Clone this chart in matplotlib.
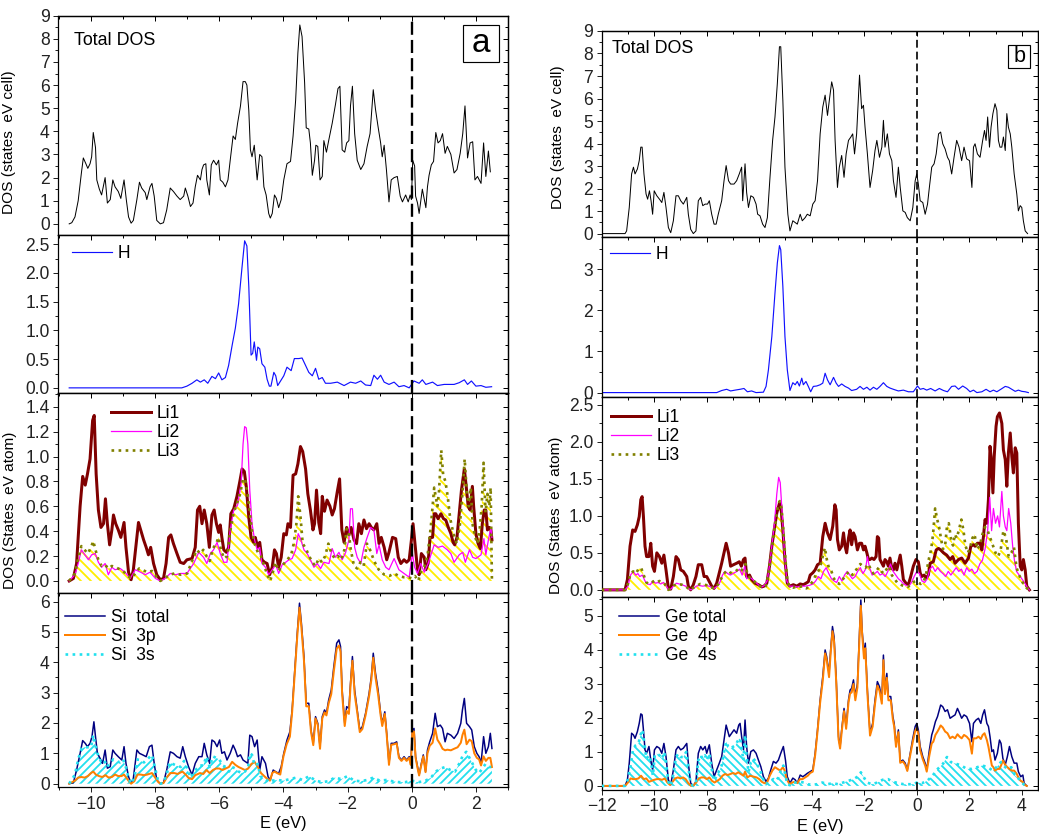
import matplotlib
matplotlib.use('Agg')
import matplotlib.pyplot as plt
from matplotlib.ticker import MultipleLocator, FormatStrFormatter
from matplotlib.patches import Rectangle

plt.rcParams['font.family'] = ['Liberation Sans', 'DejaVu Sans']
plt.rcParams['hatch.linewidth'] = 1.1
plt.rcParams['axes.linewidth'] = 0.75

# ---------------- data, panel a (Li-Si-H) ----------------
tot_a = [(-10.68, 0), (-10.6, 0.05), (-10.5, 0.3), (-10.4, 1.0), (-10.3, 2.2), (-10.24, 2.85), (-10.16, 2.6),
         (-10.1, 2.4), (-10.03, 2.6), (-9.98, 2.9), (-9.93, 3.95), (-9.86, 3.3), (-9.82, 1.9), (-9.74, 1.5),
         (-9.67, 1.25), (-9.56, 2.0), (-9.49, 0.9), (-9.4, 1.05), (-9.32, 1.9), (-9.25, 1.6), (-9.15, 1.4),
         (-9.07, 1.1), (-8.97, 1.9), (-8.9, 1.05), (-8.83, 0.3), (-8.75, 0.03), (-8.68, 0.15), (-8.57, 1.05),
         (-8.49, 1.8), (-8.42, 1.55), (-8.31, 1.35), (-8.26, 1.05), (-8.16, 1.6), (-8.1, 1.75), (-8.03, 1.2),
         (-7.95, 0.15), (-7.84, 0), (-7.74, 0.05), (-7.64, 0.6), (-7.53, 1.55), (-7.43, 1.4), (-7.32, 1.2),
         (-7.22, 1.05), (-7.11, 1.2), (-7.06, 1.55), (-6.98, 1.2), (-6.9, 0.75), (-6.82, 0.9), (-6.75, 1.6),
         (-6.68, 2.1), (-6.59, 1.9), (-6.54, 2.35), (-6.49, 2.55), (-6.42, 2.6), (-6.39, 1.9), (-6.31, 1.25),
         (-6.25, 2.55), (-6.18, 2.75), (-6.09, 2.55), (-6.02, 2.75), (-5.97, 1.9), (-5.89, 1.8), (-5.81, 1.6),
         (-5.73, 1.9), (-5.66, 2.75), (-5.57, 3.8), (-5.5, 3.65), (-5.43, 4.35), (-5.34, 5.1), (-5.26, 6.15),
         (-5.19, 6.15), (-5.14, 6.0), (-5.08, 4.9), (-5.03, 3.2), (-4.98, 2.9), (-4.91, 3.4), (-4.82, 1.9),
         (-4.74, 3.0), (-4.67, 2.9), (-4.61, 1.6), (-4.54, 1.25), (-4.46, 0.45), (-4.41, 0.25), (-4.35, 0.45),
         (-4.28, 1.25), (-4.22, 1.1), (-4.15, 0.7), (-4.07, 1.05), (-3.99, 1.9), (-3.89, 2.6), (-3.78, 2.7),
         (-3.7, 3.8), (-3.62, 5.35), (-3.55, 7.4), (-3.49, 8.6), (-3.42, 8.1), (-3.34, 6.1), (-3.29, 4.15),
         (-3.21, 4.1), (-3.16, 3.5), (-3.1, 2.1), (-3.03, 2.75), (-2.99, 3.4), (-2.93, 3.35), (-2.86, 1.9),
         (-2.79, 2.05), (-2.74, 3.6), (-2.66, 3.1), (-2.59, 3.6), (-2.48, 4.35), (-2.38, 5.15), (-2.3, 5.85),
         (-2.24, 5.95), (-2.17, 3.2), (-2.09, 3.1), (-2.03, 3.5), (-1.96, 3.6), (-1.91, 5.1), (-1.85, 5.95),
         (-1.78, 3.9), (-1.7, 2.75), (-1.59, 2.35), (-1.49, 2.6), (-1.39, 3.35), (-1.3, 3.9), (-1.2, 5.8),
         (-1.13, 4.95), (-1.05, 4.2), (-0.97, 3.5), (-0.92, 2.9), (-0.86, 3.4), (-0.79, 2.35), (-0.71, 0.95),
         (-0.64, 1.9), (-0.55, 2.0), (-0.45, 2.05), (-0.36, 1.2), (-0.29, 0.95), (-0.19, 1.25), (-0.11, 0.95),
         (-0.05, 1.25), (-0.01, 1.05), (0.03, 2.75), (0.09, 2.5), (0.12, 1.2), (0.18, 0.9), (0.23, 0.45),
         (0.33, 1.5), (0.39, 1.05), (0.44, 0.7), (0.49, 1.6), (0.54, 2.1), (0.61, 2.55), (0.68, 2.7),
         (0.75, 3.95), (0.82, 3.5), (0.89, 3.6), (0.96, 3.9), (1.04, 3.05), (1.11, 3.35), (1.22, 3.0),
         (1.32, 2.2), (1.41, 2.35), (1.51, 3.05), (1.59, 3.9), (1.66, 5.1), (1.74, 2.85), (1.82, 3.5),
         (1.9, 3.55), (1.97, 1.9), (2.05, 2.05), (2.16, 1.75), (2.24, 3.5), (2.31, 2.05), (2.39, 3.15),
         (2.45, 2.25)]

h_a = [(-10.68, 0), (-7.17, 0), (-7.01, 0.03), (-6.85, 0.08), (-6.7, 0.14), (-6.59, 0.1), (-6.47, 0.14),
       (-6.36, 0.08), (-6.23, 0.2), (-6.12, 0.16), (-6.02, 0.26), (-5.92, 0.14), (-5.81, 0.18), (-5.71, 0.39),
       (-5.6, 0.74), (-5.5, 1.04), (-5.4, 1.46), (-5.29, 2.11), (-5.21, 2.56), (-5.14, 2.47), (-5.08, 1.76),
       (-5.01, 0.57), (-4.96, 0.6), (-4.91, 0.8), (-4.84, 0.48), (-4.8, 0.71), (-4.74, 0.68), (-4.67, 0.42),
       (-4.58, 0.36), (-4.51, 0.15), (-4.44, 0.03), (-4.39, 0.03), (-4.3, 0.27), (-4.24, 0.21), (-4.18, 0.04),
       (-4.09, 0.12), (-3.99, 0.21), (-3.89, 0.36), (-3.76, 0.3), (-3.66, 0.51), (-3.52, 0.51), (-3.42, 0.52),
       (-3.31, 0.39), (-3.21, 0.27), (-3.1, 0.21), (-3.0, 0.34), (-2.9, 0.15), (-2.79, 0.18), (-2.69, 0.08),
       (-2.53, 0.08), (-2.32, 0.1), (-2.11, 0.04), (-1.91, 0.1), (-1.75, 0.08), (-1.59, 0.12), (-1.44, 0.05),
       (-1.28, 0.04), (-1.18, 0.22), (-1.07, 0.15), (-0.97, 0.22), (-0.86, 0.1), (-0.71, 0.06), (-0.55, 0.1),
       (-0.4, 0.02), (-0.24, 0.04), (-0.08, 0.0), (0.07, 0.12), (0.23, 0.08), (0.33, 0.14), (0.44, 0.06),
       (0.65, 0.1), (0.8, 0.04), (1.01, 0.06), (1.32, 0.06), (1.48, 0.09), (1.64, 0.14), (1.74, 0.06),
       (1.86, 0.12), (2.0, 0.03), (2.16, 0.04), (2.31, 0.01), (2.49, 0.02)]

li1_a = [(-10.68, 0), (-10.55, 0.02), (-10.45, 0.14), (-10.34, 0.6), (-10.26, 0.84), (-10.18, 0.77),
         (-10.11, 0.86), (-10.03, 0.98), (-9.95, 1.29), (-9.9, 1.33), (-9.84, 0.86), (-9.77, 0.57), (-9.69, 0.43),
         (-9.61, 0.46), (-9.55, 0.66), (-9.49, 0.46), (-9.42, 0.29), (-9.35, 0.41), (-9.3, 0.53), (-9.23, 0.46),
         (-9.15, 0.41), (-9.07, 0.35), (-8.97, 0.47), (-8.91, 0.27), (-8.83, 0.07), (-8.75, 0.01), (-8.68, 0.09),
         (-8.59, 0.3), (-8.52, 0.47), (-8.45, 0.41), (-8.36, 0.33), (-8.28, 0.27), (-8.21, 0.21), (-8.14, 0.27),
         (-8.05, 0.14), (-7.95, 0.05), (-7.84, 0.01), (-7.74, 0.02), (-7.66, 0.14), (-7.58, 0.35), (-7.51, 0.37),
         (-7.43, 0.3), (-7.32, 0.22), (-7.22, 0.15), (-7.11, 0.14), (-7.01, 0.17), (-6.85, 0.18), (-6.75, 0.27),
         (-6.68, 0.57), (-6.61, 0.6), (-6.54, 0.46), (-6.47, 0.57), (-6.39, 0.46), (-6.31, 0.27), (-6.23, 0.53),
         (-6.16, 0.57), (-6.09, 0.46), (-6.02, 0.39), (-5.97, 0.45), (-5.92, 0.35), (-5.86, 0.25), (-5.78, 0.23),
         (-5.71, 0.27), (-5.64, 0.54), (-5.55, 0.58), (-5.45, 0.68), (-5.36, 0.8), (-5.29, 0.9), (-5.22, 0.88),
         (-5.16, 0.76), (-5.08, 0.51), (-5.01, 0.35), (-4.93, 0.31), (-4.88, 0.35), (-4.8, 0.27), (-4.74, 0.31),
         (-4.67, 0.17), (-4.59, 0.15), (-4.51, 0.14), (-4.43, 0.05), (-4.35, 0.11), (-4.28, 0.25), (-4.22, 0.22),
         (-4.15, 0.11), (-4.07, 0.19), (-3.99, 0.38), (-3.91, 0.37), (-3.86, 0.46), (-3.78, 0.43), (-3.7, 0.85),
         (-3.62, 0.86), (-3.55, 0.94), (-3.47, 1.08), (-3.4, 1.04), (-3.31, 0.9), (-3.24, 0.7), (-3.16, 0.57),
         (-3.08, 0.41), (-3.03, 0.46), (-2.97, 0.73), (-2.9, 0.47), (-2.84, 0.38), (-2.79, 0.68), (-2.72, 0.56),
         (-2.64, 0.65), (-2.55, 0.6), (-2.48, 0.53), (-2.41, 0.58), (-2.32, 0.72), (-2.25, 0.82), (-2.18, 0.41),
         (-2.11, 0.31), (-2.03, 0.43), (-1.96, 0.37), (-1.89, 0.43), (-1.8, 0.33), (-1.72, 0.3), (-1.65, 0.46),
         (-1.57, 0.38), (-1.49, 0.49), (-1.41, 0.42), (-1.33, 0.46), (-1.26, 0.43), (-1.18, 0.41), (-1.09, 0.46),
         (-1.02, 0.3), (-0.95, 0.35), (-0.86, 0.27), (-0.78, 0.17), (-0.71, 0.23), (-0.6, 0.35), (-0.5, 0.34),
         (-0.42, 0.19), (-0.34, 0.14), (-0.24, 0.17), (-0.16, 0.15), (-0.08, 0.17), (-0.01, 0.33), (0.04, 0.46),
         (0.1, 0.3), (0.18, 0.09), (0.23, 0.05), (0.3, 0.22), (0.39, 0.19), (0.44, 0.09), (0.51, 0.14),
         (0.57, 0.35), (0.65, 0.35), (0.7, 0.54), (0.75, 0.54), (0.82, 0.5), (0.91, 0.54), (0.99, 0.5),
         (1.06, 0.49), (1.14, 0.43), (1.22, 0.38), (1.29, 0.31), (1.34, 0.29), (1.41, 0.35), (1.48, 0.54),
         (1.55, 0.73), (1.64, 0.9), (1.69, 0.78), (1.76, 0.6), (1.82, 0.57), (1.89, 0.76), (1.93, 0.6),
         (2.0, 0.38), (2.07, 0.3), (2.14, 0.26), (2.2, 0.46), (2.26, 0.57), (2.31, 0.57), (2.36, 0.41),
         (2.42, 0.43), (2.47, 0.41), (2.5, 0.33)]

li2_a = [(-10.68, 0), (-10.5, 0.05), (-10.4, 0.14), (-10.3, 0.25), (-10.19, 0.21), (-10.08, 0.17), (-9.98, 0.21),
         (-9.87, 0.22), (-9.77, 0.15), (-9.67, 0.11), (-9.56, 0.14), (-9.46, 0.05), (-9.35, 0.11), (-9.25, 0.09),
         (-9.09, 0.1), (-8.94, 0.07), (-8.78, 0.02), (-8.62, 0.09), (-8.45, 0.07), (-8.31, 0.05), (-8.16, 0.07),
         (-7.99, 0.02), (-7.84, 0.0), (-7.69, 0.02), (-7.53, 0.06), (-7.36, 0.05), (-7.22, 0.06), (-7.01, 0.06),
         (-6.8, 0.14), (-6.64, 0.23), (-6.49, 0.19), (-6.39, 0.14), (-6.28, 0.22), (-6.18, 0.25), (-6.07, 0.31),
         (-5.97, 0.22), (-5.86, 0.15), (-5.76, 0.15), (-5.66, 0.41), (-5.55, 0.57), (-5.43, 0.61), (-5.32, 0.78),
         (-5.26, 1.1), (-5.21, 1.24), (-5.16, 1.23), (-5.11, 1.1), (-5.05, 0.73), (-4.98, 0.46), (-4.9, 0.33),
         (-4.82, 0.25), (-4.74, 0.27), (-4.67, 0.14), (-4.56, 0.11), (-4.46, 0.05), (-4.35, 0.09), (-4.24, 0.13),
         (-4.15, 0.06), (-4.04, 0.13), (-3.93, 0.15), (-3.83, 0.17), (-3.73, 0.18), (-3.62, 0.25), (-3.54, 0.38),
         (-3.47, 0.34), (-3.36, 0.25), (-3.26, 0.22), (-3.16, 0.17), (-3.05, 0.11), (-2.95, 0.14), (-2.84, 0.1),
         (-2.74, 0.15), (-2.58, 0.14), (-2.48, 0.26), (-2.38, 0.19), (-2.27, 0.23), (-2.17, 0.17), (-2.06, 0.23),
         (-1.96, 0.33), (-1.91, 0.58), (-1.85, 0.58), (-1.78, 0.27), (-1.7, 0.19), (-1.59, 0.14), (-1.49, 0.27),
         (-1.39, 0.35), (-1.28, 0.43), (-1.18, 0.41), (-1.09, 0.22), (-1.02, 0.29), (-0.92, 0.17), (-0.81, 0.11),
         (-0.71, 0.09), (-0.55, 0.18), (-0.4, 0.09), (-0.24, 0.06), (-0.08, 0.03), (0.02, 0.22), (0.09, 0.11),
         (0.18, 0.06), (0.28, 0.14), (0.39, 0.07), (0.51, 0.14), (0.61, 0.22), (0.7, 0.29), (0.82, 0.27),
         (0.96, 0.28), (1.11, 0.25), (1.22, 0.22), (1.32, 0.15), (1.48, 0.21), (1.59, 0.23), (1.67, 0.15),
         (1.8, 0.25), (1.9, 0.19), (2.0, 0.18), (2.16, 0.21), (2.25, 0.34), (2.31, 0.21), (2.39, 0.33),
         (2.47, 0.43), (2.5, 0.35)]

li3_a = [(-10.68, 0), (-10.5, 0.06), (-10.4, 0.18), (-10.3, 0.28), (-10.2, 0.25), (-10.1, 0.22), (-10.0, 0.27),
         (-9.93, 0.32), (-9.85, 0.24), (-9.77, 0.17), (-9.67, 0.12), (-9.56, 0.13), (-9.46, 0.1), (-9.35, 0.12),
         (-9.25, 0.11), (-9.15, 0.1), (-9.0, 0.08), (-8.85, 0.04), (-8.75, 0.02), (-8.62, 0.06), (-8.5, 0.1),
         (-8.4, 0.09), (-8.25, 0.07), (-8.1, 0.08), (-7.95, 0.03), (-7.84, 0.0), (-7.7, 0.02), (-7.55, 0.05),
         (-7.4, 0.06), (-7.2, 0.05), (-7.0, 0.06), (-6.85, 0.16), (-6.7, 0.25), (-6.6, 0.22), (-6.5, 0.25),
         (-6.4, 0.2), (-6.3, 0.16), (-6.2, 0.26), (-6.1, 0.3), (-6.02, 0.35), (-5.95, 0.25), (-5.85, 0.18),
         (-5.75, 0.2), (-5.66, 0.4), (-5.55, 0.55), (-5.45, 0.62), (-5.35, 0.7), (-5.26, 0.82), (-5.2, 0.82),
         (-5.12, 0.7), (-5.05, 0.55), (-4.98, 0.4), (-4.9, 0.3), (-4.8, 0.23), (-4.7, 0.2), (-4.6, 0.12),
         (-4.5, 0.05), (-4.42, 0.0), (-4.35, 0.05), (-4.25, 0.15), (-4.15, 0.08), (-4.05, 0.12), (-3.95, 0.15),
         (-3.85, 0.18), (-3.75, 0.22), (-3.68, 0.3), (-3.6, 0.45), (-3.54, 0.68), (-3.47, 0.52), (-3.4, 0.3),
         (-3.3, 0.26), (-3.2, 0.2), (-3.1, 0.15), (-3.0, 0.12), (-2.9, 0.18), (-2.8, 0.15), (-2.7, 0.2),
         (-2.6, 0.3), (-2.5, 0.22), (-2.4, 0.18), (-2.3, 0.2), (-2.2, 0.17), (-2.1, 0.25), (-2.03, 0.42),
         (-1.97, 0.4), (-1.9, 0.25), (-1.8, 0.12), (-1.7, 0.1), (-1.6, 0.15), (-1.5, 0.12), (-1.4, 0.3),
         (-1.3, 0.25), (-1.2, 0.18), (-1.1, 0.12), (-1.0, 0.08), (-0.85, 0.05), (-0.7, 0.04), (-0.55, 0.06),
         (-0.4, 0.04), (-0.25, 0.03), (-0.1, 0.03), (0.0, 0.02), (0.1, 0.04), (0.2, 0.0), (0.3, 0.08),
         (0.4, 0.12), (0.5, 0.22), (0.6, 0.45), (0.7, 0.75), (0.8, 0.6), (0.85, 0.72), (0.92, 1.05), (0.98, 0.85),
         (1.05, 0.8), (1.12, 0.68), (1.2, 0.5), (1.3, 0.38), (1.4, 0.3), (1.5, 0.45), (1.58, 0.7), (1.65, 0.98),
         (1.72, 0.7), (1.78, 0.6), (1.84, 0.75), (1.9, 0.45), (1.98, 0.35), (2.05, 0.3), (2.12, 0.42),
         (2.18, 0.6), (2.24, 0.95), (2.3, 0.55), (2.36, 0.7), (2.42, 0.6), (2.46, 0.75), (2.5, 0.0)]

si_tot = [(-10.68, 0), (-10.55, 0.03), (-10.45, 0.45), (-10.34, 1.0), (-10.26, 1.42), (-10.18, 1.33),
          (-10.11, 1.22), (-10.03, 1.33), (-9.97, 1.55), (-9.91, 2.04), (-9.86, 1.55), (-9.8, 1.0), (-9.72, 0.84),
          (-9.64, 0.67), (-9.56, 1.11), (-9.49, 0.51), (-9.4, 0.56), (-9.32, 1.11), (-9.25, 1.0), (-9.15, 0.89),
          (-9.04, 0.78), (-8.97, 1.22), (-8.91, 0.67), (-8.83, 0.23), (-8.75, 0.01), (-8.68, 0.18), (-8.57, 1.11),
          (-8.49, 1.0), (-8.39, 0.95), (-8.28, 0.89), (-8.18, 1.22), (-8.1, 1.27), (-8.03, 0.67), (-7.95, 0.12),
          (-7.84, 0.0), (-7.74, 0.03), (-7.64, 0.45), (-7.53, 1.05), (-7.43, 1.0), (-7.32, 0.89), (-7.22, 0.84),
          (-7.14, 1.22), (-7.06, 0.89), (-6.96, 0.56), (-6.85, 0.29), (-6.75, 0.67), (-6.64, 0.89), (-6.54, 0.89),
          (-6.47, 1.33), (-6.39, 0.95), (-6.3, 0.67), (-6.23, 1.44), (-6.15, 1.38), (-6.07, 1.22), (-5.99, 1.44),
          (-5.92, 1.0), (-5.84, 1.05), (-5.76, 0.78), (-5.66, 1.0), (-5.57, 1.27), (-5.5, 1.11), (-5.43, 0.89),
          (-5.34, 0.95), (-5.26, 0.78), (-5.19, 0.73), (-5.11, 0.67), (-5.05, 1.6), (-4.98, 1.55), (-4.9, 1.22),
          (-4.82, 1.44), (-4.74, 0.45), (-4.67, 0.89), (-4.56, 0.67), (-4.48, 0.23), (-4.41, 0.12), (-4.32, 0.45),
          (-4.25, 0.4), (-4.15, 0.34), (-4.07, 0.56), (-3.99, 1.0), (-3.89, 1.44), (-3.8, 1.71), (-3.73, 2.43),
          (-3.66, 3.53), (-3.57, 4.96), (-3.5, 5.95), (-3.44, 5.29), (-3.36, 4.19), (-3.29, 2.65), (-3.21, 2.65),
          (-3.14, 1.77), (-3.07, 1.33), (-3.0, 2.21), (-2.93, 1.99), (-2.86, 1.22), (-2.79, 2.21), (-2.72, 2.43),
          (-2.66, 2.32), (-2.59, 2.76), (-2.51, 3.09), (-2.43, 3.86), (-2.34, 4.63), (-2.27, 4.74), (-2.22, 4.52),
          (-2.17, 3.09), (-2.09, 1.99), (-2.03, 2.54), (-1.96, 2.48), (-1.91, 3.31), (-1.85, 4.19), (-1.78, 3.09),
          (-1.7, 2.43), (-1.62, 1.77), (-1.54, 1.88), (-1.44, 2.32), (-1.33, 2.98), (-1.26, 3.53), (-1.2, 4.3),
          (-1.13, 3.64), (-1.05, 3.09), (-0.97, 2.32), (-0.92, 1.99), (-0.84, 2.37), (-0.78, 1.66), (-0.71, 0.67),
          (-0.64, 1.33), (-0.55, 1.33), (-0.47, 1.38), (-0.4, 0.89), (-0.32, 0.78), (-0.24, 0.89), (-0.16, 0.78),
          (-0.08, 0.89), (-0.03, 0.67), (0.02, 1.77), (0.07, 1.82), (0.12, 0.89), (0.18, 0.56), (0.23, 0.29),
          (0.3, 0.67), (0.36, 0.95), (0.43, 0.4), (0.49, 1.11), (0.56, 1.38), (0.65, 1.66), (0.73, 2.32),
          (0.8, 1.88), (0.89, 1.93), (0.96, 1.82), (1.04, 1.38), (1.11, 1.66), (1.22, 1.6), (1.32, 1.49),
          (1.43, 1.66), (1.53, 1.99), (1.58, 2.43), (1.64, 2.81), (1.71, 1.99), (1.8, 1.88), (1.87, 1.77),
          (1.95, 1.22), (2.03, 1.0), (2.1, 0.89), (2.16, 0.67), (2.24, 1.55), (2.31, 1.0), (2.39, 1.22),
          (2.45, 1.66), (2.5, 1.16)]

si_3p = [(-10.68, 0), (-10.5, 0.1), (-10.4, 0.2), (-10.3, 0.22), (-10.2, 0.2), (-10.1, 0.25), (-10.0, 0.35),
         (-9.93, 0.4), (-9.85, 0.3), (-9.75, 0.25), (-9.65, 0.22), (-9.55, 0.28), (-9.45, 0.2), (-9.35, 0.22),
         (-9.25, 0.3), (-9.15, 0.25), (-9.05, 0.25), (-8.97, 0.3), (-8.9, 0.2), (-8.82, 0.08), (-8.75, 0.0),
         (-8.65, 0.08), (-8.55, 0.3), (-8.45, 0.3), (-8.35, 0.28), (-8.25, 0.3), (-8.1, 0.35), (-8.0, 0.2),
         (-7.9, 0.05), (-7.84, 0.0), (-7.74, 0.02), (-7.64, 0.2), (-7.53, 0.35), (-7.4, 0.35), (-7.3, 0.32),
         (-7.15, 0.4), (-7.05, 0.3), (-6.95, 0.18), (-6.85, 0.15), (-6.75, 0.28), (-6.6, 0.35), (-6.5, 0.32),
         (-6.4, 0.45), (-6.3, 0.35), (-6.2, 0.45), (-6.1, 0.5), (-6.0, 0.5), (-5.9, 0.45), (-5.8, 0.5),
         (-5.7, 0.55), (-5.6, 0.72), (-5.5, 0.62), (-5.4, 0.55), (-5.3, 0.5), (-5.2, 0.45), (-5.1, 0.5),
         (-5.0, 0.65), (-4.9, 0.72), (-4.8, 0.55), (-4.7, 0.35), (-4.6, 0.25), (-4.5, 0.15), (-4.42, 0.1),
         (-4.35, 0.35), (-4.28, 0.4), (-4.2, 0.35), (-4.1, 0.3), (-4.0, 0.9), (-3.9, 1.3), (-3.8, 1.55),
         (-3.73, 2.35), (-3.66, 3.45), (-3.57, 4.85), (-3.5, 5.8), (-3.44, 5.15), (-3.36, 4.05), (-3.29, 2.55),
         (-3.21, 2.55), (-3.14, 1.7), (-3.07, 1.27), (-3.0, 2.15), (-2.93, 1.93), (-2.86, 1.15), (-2.79, 2.15),
         (-2.72, 2.35), (-2.66, 2.25), (-2.59, 2.65), (-2.51, 2.95), (-2.43, 3.7), (-2.34, 4.45), (-2.27, 4.55),
         (-2.22, 4.35), (-2.17, 2.95), (-2.09, 1.9), (-2.03, 2.4), (-1.96, 2.3), (-1.91, 3.2), (-1.85, 4.05),
         (-1.78, 2.95), (-1.7, 2.35), (-1.62, 1.7), (-1.54, 1.8), (-1.44, 2.25), (-1.33, 2.88), (-1.26, 3.42),
         (-1.2, 4.15), (-1.13, 3.5), (-1.05, 2.95), (-0.97, 2.25), (-0.92, 1.9), (-0.84, 2.3), (-0.78, 1.6),
         (-0.71, 0.62), (-0.64, 1.28), (-0.55, 1.3), (-0.47, 1.33), (-0.4, 0.85), (-0.32, 0.75), (-0.24, 0.85),
         (-0.16, 0.75), (-0.08, 0.85), (-0.03, 0.62), (0.02, 1.7), (0.07, 1.72), (0.12, 0.85), (0.18, 0.52),
         (0.23, 0.27), (0.3, 0.62), (0.36, 0.9), (0.43, 0.38), (0.49, 1.0), (0.56, 1.25), (0.65, 1.35),
         (0.73, 1.82), (0.8, 1.45), (0.89, 1.3), (0.96, 1.15), (1.04, 1.1), (1.11, 1.12), (1.22, 1.1),
         (1.32, 1.15), (1.43, 1.2), (1.53, 1.35), (1.58, 1.6), (1.64, 1.78), (1.71, 1.3), (1.8, 1.45),
         (1.87, 1.4), (1.95, 1.0), (2.03, 0.85), (2.1, 0.8), (2.16, 0.6), (2.24, 0.9), (2.31, 0.75),
         (2.39, 0.85), (2.45, 0.85), (2.5, 0.55)]

si_3s = [(-10.68, 0), (-10.5, 0.3), (-10.4, 0.8), (-10.3, 1.15), (-10.2, 1.2), (-10.1, 1.2), (-10.0, 1.2),
         (-9.93, 1.6), (-9.87, 1.3), (-9.8, 1.0), (-9.7, 0.75), (-9.6, 0.8), (-9.5, 0.55), (-9.4, 0.7),
         (-9.3, 0.8), (-9.2, 0.75), (-9.1, 0.7), (-9.0, 0.8), (-8.9, 0.5), (-8.82, 0.15), (-8.75, 0.0),
         (-8.65, 0.2), (-8.55, 0.8), (-8.45, 0.75), (-8.35, 0.7), (-8.2, 0.85), (-8.1, 0.95), (-8.0, 0.5),
         (-7.9, 0.05), (-7.84, 0.0), (-7.74, 0.03), (-7.64, 0.3), (-7.55, 0.7), (-7.45, 0.65), (-7.35, 0.6),
         (-7.2, 0.55), (-7.1, 0.75), (-7.0, 0.5), (-6.9, 0.2), (-6.8, 0.35), (-6.7, 0.5), (-6.6, 0.6),
         (-6.5, 0.6), (-6.4, 0.9), (-6.3, 0.55), (-6.2, 0.9), (-6.1, 0.85), (-6.0, 0.8), (-5.9, 0.6),
         (-5.8, 0.55), (-5.7, 0.4), (-5.6, 0.55), (-5.5, 0.5), (-5.4, 0.4), (-5.3, 0.35), (-5.2, 0.4),
         (-5.1, 0.55), (-5.05, 1.0), (-4.98, 0.95), (-4.9, 0.6), (-4.8, 0.65), (-4.72, 0.25), (-4.65, 0.2),
         (-4.55, 0.15), (-4.45, 0.05), (-4.35, 0.1), (-4.2, 0.12), (-4.0, 0.1), (-3.8, 0.15), (-3.6, 0.2),
         (-3.4, 0.12), (-3.2, 0.25), (-3.0, 0.1), (-2.8, 0.05), (-2.6, 0.08), (-2.4, 0.2), (-2.2, 0.15),
         (-2.0, 0.25), (-1.8, 0.1), (-1.6, 0.08), (-1.4, 0.12), (-1.2, 0.2), (-1.0, 0.1), (-0.8, 0.12),
         (-0.6, 0.08), (-0.4, 0.05), (-0.2, 0.05), (0.0, 0.1), (0.2, 0.05), (0.4, 0.08), (0.6, 0.2),
         (0.75, 0.4), (0.9, 0.5), (1.05, 0.55), (1.2, 0.45), (1.35, 0.4), (1.5, 0.7), (1.6, 0.95), (1.7, 1.05),
         (1.8, 0.85), (1.9, 0.65), (2.0, 0.45), (2.1, 0.35), (2.2, 0.5), (2.3, 0.65), (2.4, 0.55), (2.5, 0.55)]

# ---------------- data, panel b (Li-Ge-H) ----------------
tot_b = [(-12.0, 0), (-11.11, 0), (-11.05, 0.12), (-10.95, 1.16), (-10.86, 2.65), (-10.79, 2.95), (-10.73, 2.65),
         (-10.64, 2.87), (-10.57, 3.24), (-10.51, 3.84), (-10.46, 3.84), (-10.39, 2.65), (-10.31, 1.76),
         (-10.25, 1.53), (-10.18, 1.9), (-10.12, 1.46), (-10.06, 0.86), (-10.0, 1.9), (-9.9, 1.68), (-9.8, 1.53),
         (-9.71, 1.38), (-9.63, 1.83), (-9.55, 1.16), (-9.46, 0.27), (-9.37, 0.04), (-9.27, 0.57), (-9.17, 1.68),
         (-9.08, 1.68), (-8.99, 1.46), (-8.89, 1.31), (-8.76, 1.61), (-8.7, 0.86), (-8.61, 0.19), (-8.51, 0.0),
         (-8.41, 0.12), (-8.32, 1.46), (-8.23, 1.61), (-8.15, 1.24), (-8.06, 1.31), (-7.97, 1.31), (-7.9, 1.46),
         (-7.81, 0.86), (-7.72, 0.42), (-7.64, 0.42), (-7.56, 0.86), (-7.43, 1.46), (-7.34, 2.35), (-7.26, 3.02),
         (-7.17, 2.35), (-7.09, 2.2), (-6.96, 2.2), (-6.86, 2.35), (-6.76, 2.65), (-6.67, 2.95), (-6.63, 1.46),
         (-6.54, 3.1), (-6.48, 1.83), (-6.41, 1.16), (-6.32, 1.68), (-6.22, 1.61), (-6.12, 1.31), (-6.06, 0.86),
         (-5.97, 0.79), (-5.87, 0.42), (-5.78, 0.27), (-5.69, 0.71), (-5.59, 2.5), (-5.49, 4.14), (-5.4, 5.18),
         (-5.31, 6.67), (-5.23, 8.3), (-5.18, 8.3), (-5.1, 5.92), (-5.02, 2.95), (-4.91, 0.86), (-4.83, 0.12),
         (-4.72, 0.57), (-4.63, 0.49), (-4.55, 0.42), (-4.44, 0.86), (-4.36, 0.57), (-4.25, 0.71), (-4.17, 0.86),
         (-4.06, 0.79), (-3.96, 1.31), (-3.87, 1.46), (-3.78, 2.35), (-3.68, 4.43), (-3.58, 5.62), (-3.49, 6.15),
         (-3.4, 5.25), (-3.33, 5.92), (-3.24, 6.74), (-3.17, 6.37), (-3.11, 4.14), (-3.02, 2.05), (-2.95, 2.95),
         (-2.86, 3.47), (-2.77, 2.5), (-2.69, 3.54), (-2.6, 4.14), (-2.51, 4.29), (-2.44, 4.43), (-2.37, 3.54),
         (-2.29, 4.43), (-2.18, 7.04), (-2.1, 5.55), (-2.03, 5.7), (-1.97, 4.73), (-1.88, 3.54), (-1.78, 2.05),
         (-1.68, 2.8), (-1.59, 3.69), (-1.52, 4.14), (-1.42, 3.39), (-1.33, 3.84), (-1.27, 5.03), (-1.21, 3.84),
         (-1.12, 4.43), (-1.04, 3.54), (-0.95, 3.24), (-0.89, 2.35), (-0.79, 1.61), (-0.7, 2.95), (-0.63, 2.05),
         (-0.53, 1.01), (-0.44, 0.94), (-0.36, 0.71), (-0.25, 0.57), (-0.15, 1.16), (-0.06, 2.35), (0.0, 2.65),
         (0.06, 2.2), (0.13, 1.46), (0.23, 1.38), (0.32, 0.86), (0.41, 1.31), (0.48, 2.05), (0.57, 2.95),
         (0.66, 3.1), (0.74, 3.54), (0.83, 4.43), (0.91, 4.51), (0.99, 3.99), (1.08, 3.76), (1.17, 3.39),
         (1.24, 3.24), (1.33, 2.65), (1.42, 3.39), (1.52, 4.14), (1.61, 3.84), (1.71, 3.24), (1.8, 3.84),
         (1.9, 3.32), (2.01, 3.24), (2.1, 2.05), (2.16, 3.84), (2.22, 3.99), (2.31, 3.54), (2.41, 3.39),
         (2.51, 4.14), (2.58, 4.58), (2.64, 4.14), (2.7, 5.18), (2.77, 3.84), (2.83, 4.73), (2.9, 5.33),
         (2.98, 5.77), (3.05, 5.48), (3.11, 4.14), (3.17, 3.84), (3.24, 3.84), (3.3, 4.29), (3.37, 3.69),
         (3.43, 5.33), (3.49, 4.73), (3.56, 4.43), (3.62, 3.84), (3.71, 2.65), (3.81, 1.76), (3.87, 1.01),
         (3.94, 1.24), (4.0, 1.16), (4.06, 0.57), (4.13, 0.12), (4.22, 0.0)]

h_b = [(-12.0, 0), (-7.62, 0), (-7.43, 0.05), (-7.24, 0.08), (-7.09, 0.04), (-6.92, 0.06), (-6.73, 0.08),
       (-6.58, 0.1), (-6.45, 0.02), (-6.29, 0.04), (-6.12, 0.0), (-5.84, 0.01), (-5.74, 0.15), (-5.65, 0.55),
       (-5.52, 1.36), (-5.4, 2.42), (-5.31, 3.15), (-5.23, 3.57), (-5.18, 3.47), (-5.1, 2.58), (-5.02, 1.36),
       (-4.93, 0.55), (-4.83, 0.05), (-4.72, 0.24), (-4.63, 0.19), (-4.55, 0.27), (-4.47, 0.16), (-4.38, 0.35),
       (-4.32, 0.19), (-4.22, 0.27), (-4.13, 0.15), (-4.04, 0.02), (-3.94, 0.15), (-3.81, 0.16), (-3.68, 0.19),
       (-3.58, 0.23), (-3.49, 0.47), (-3.4, 0.31), (-3.3, 0.19), (-3.17, 0.37), (-3.07, 0.23), (-2.98, 0.15),
       (-2.86, 0.21), (-2.73, 0.15), (-2.6, 0.11), (-2.48, 0.05), (-2.29, 0.08), (-2.16, 0.15), (-2.03, 0.08),
       (-1.9, 0.13), (-1.78, 0.06), (-1.65, 0.13), (-1.52, 0.08), (-1.4, 0.15), (-1.27, 0.24), (-1.14, 0.15),
       (-1.02, 0.11), (-0.89, 0.08), (-0.7, 0.04), (-0.51, 0.06), (-0.32, 0.02), (-0.13, 0.02), (0.03, 0.16),
       (0.13, 0.08), (0.25, 0.1), (0.38, 0.06), (0.53, 0.1), (0.7, 0.04), (0.86, 0.1), (1.02, 0.05),
       (1.17, 0.02), (1.33, 0.15), (1.46, 0.16), (1.59, 0.08), (1.75, 0.16), (1.9, 0.1), (2.03, 0.02),
       (2.16, 0.06), (2.29, 0.0), (2.48, 0.02), (2.64, 0.08), (2.79, 0.02), (2.92, 0.06), (3.05, 0.02),
       (3.2, 0.08), (3.37, 0.15), (3.49, 0.13), (3.62, 0.08), (3.75, 0.03), (3.87, 0.06), (4.0, 0.03),
       (4.13, 0.02), (4.25, 0.0)]

li1_b = [(-12.0, 0), (-11.11, 0), (-11.02, 0.14), (-10.92, 0.59), (-10.82, 0.81), (-10.73, 0.79), (-10.64, 0.88),
         (-10.57, 0.99), (-10.51, 1.22), (-10.46, 1.26), (-10.41, 0.99), (-10.35, 0.59), (-10.29, 0.45),
         (-10.2, 0.45), (-10.13, 0.63), (-10.06, 0.32), (-9.99, 0.25), (-9.9, 0.5), (-9.8, 0.45), (-9.71, 0.36),
         (-9.63, 0.47), (-9.55, 0.27), (-9.46, 0.02), (-9.37, 0.01), (-9.27, 0.18), (-9.17, 0.45), (-9.08, 0.41),
         (-8.99, 0.27), (-8.89, 0.25), (-8.76, 0.18), (-8.7, 0.05), (-8.61, 0.0), (-8.51, 0.07), (-8.41, 0.18),
         (-8.32, 0.34), (-8.19, 0.34), (-8.1, 0.18), (-8.0, 0.18), (-7.9, 0.11), (-7.81, 0.05), (-7.72, 0.02),
         (-7.62, 0.09), (-7.52, 0.23), (-7.43, 0.36), (-7.34, 0.5), (-7.26, 0.63), (-7.17, 0.5), (-7.09, 0.32),
         (-6.98, 0.34), (-6.86, 0.36), (-6.76, 0.38), (-6.68, 0.32), (-6.6, 0.41), (-6.54, 0.43), (-6.48, 0.18),
         (-6.37, 0.2), (-6.29, 0.14), (-6.16, 0.09), (-6.03, 0.07), (-5.9, 0.04), (-5.82, 0.05), (-5.71, 0.09),
         (-5.61, 0.32), (-5.52, 0.59), (-5.43, 0.81), (-5.33, 1.04), (-5.23, 1.17), (-5.18, 1.15), (-5.1, 0.81),
         (-5.02, 0.41), (-4.93, 0.09), (-4.83, 0.05), (-4.7, 0.07), (-4.57, 0.05), (-4.44, 0.08), (-4.32, 0.07),
         (-4.22, 0.09), (-4.13, 0.11), (-4.06, 0.2), (-3.96, 0.23), (-3.87, 0.27), (-3.78, 0.34), (-3.68, 0.36),
         (-3.58, 0.72), (-3.49, 0.9), (-3.4, 0.77), (-3.3, 0.68), (-3.2, 0.86), (-3.12, 1.15), (-3.07, 1.08),
         (-3.02, 0.68), (-2.95, 0.54), (-2.86, 0.59), (-2.79, 0.77), (-2.73, 0.59), (-2.67, 0.5), (-2.6, 0.7),
         (-2.54, 0.81), (-2.48, 0.61), (-2.41, 0.77), (-2.35, 0.72), (-2.26, 0.54), (-2.18, 0.63), (-2.1, 0.63),
         (-2.03, 0.54), (-1.97, 0.59), (-1.9, 0.5), (-1.84, 0.41), (-1.78, 0.41), (-1.71, 0.43), (-1.63, 0.41),
         (-1.55, 0.45), (-1.5, 0.72), (-1.45, 0.7), (-1.4, 0.41), (-1.33, 0.36), (-1.27, 0.32), (-1.21, 0.41),
         (-1.14, 0.38), (-1.08, 0.32), (-1.02, 0.43), (-0.95, 0.29), (-0.89, 0.27), (-0.83, 0.36), (-0.76, 0.27),
         (-0.7, 0.36), (-0.63, 0.47), (-0.57, 0.32), (-0.51, 0.14), (-0.41, 0.09), (-0.32, 0.07), (-0.23, 0.18),
         (-0.13, 0.32), (-0.03, 0.41), (0.06, 0.38), (0.13, 0.23), (0.19, 0.18), (0.28, 0.2), (0.36, 0.16),
         (0.44, 0.2), (0.51, 0.36), (0.63, 0.38), (0.74, 0.54), (0.83, 0.56), (0.91, 0.54), (1.02, 0.5),
         (1.14, 0.47), (1.27, 0.41), (1.37, 0.45), (1.46, 0.36), (1.59, 0.41), (1.71, 0.43), (1.84, 0.36),
         (1.97, 0.43), (2.06, 0.59), (2.16, 0.61), (2.22, 0.59), (2.31, 0.63), (2.41, 0.63), (2.48, 0.54),
         (2.54, 0.72), (2.6, 0.95), (2.67, 0.9), (2.73, 1.22), (2.79, 1.94), (2.83, 1.8), (2.9, 1.31),
         (2.95, 1.8), (3.02, 2.21), (3.07, 2.34), (3.15, 2.39), (3.24, 2.25), (3.3, 1.89), (3.37, 1.76),
         (3.43, 1.4), (3.49, 1.85), (3.56, 2.12), (3.62, 1.8), (3.68, 1.58), (3.75, 1.92), (3.81, 1.85),
         (3.87, 0.9), (3.94, 0.32), (4.0, 0.27), (4.06, 0.41), (4.13, 0.27), (4.19, 0.05), (4.29, 0.0)]

li2_b = [(-12.0, 0), (-11.11, 0), (-11.0, 0.05), (-10.9, 0.2), (-10.8, 0.25), (-10.7, 0.2), (-10.62, 0.22),
         (-10.55, 0.18), (-10.45, 0.2), (-10.35, 0.12), (-10.25, 0.08), (-10.15, 0.07), (-10.05, 0.12),
         (-9.95, 0.09), (-9.85, 0.1), (-9.75, 0.08), (-9.65, 0.1), (-9.55, 0.06), (-9.46, 0.01), (-9.37, 0.01),
         (-9.27, 0.05), (-9.15, 0.09), (-9.05, 0.08), (-8.95, 0.07), (-8.8, 0.05), (-8.7, 0.02), (-8.6, 0.0),
         (-8.5, 0.02), (-8.4, 0.05), (-8.3, 0.06), (-8.15, 0.05), (-8.0, 0.06), (-7.85, 0.04), (-7.72, 0.02),
         (-7.6, 0.05), (-7.5, 0.1), (-7.4, 0.2), (-7.3, 0.25), (-7.2, 0.22), (-7.1, 0.2), (-7.0, 0.22),
         (-6.85, 0.25), (-6.75, 0.28), (-6.65, 0.2), (-6.55, 0.32), (-6.48, 0.15), (-6.35, 0.17), (-6.25, 0.14),
         (-6.1, 0.09), (-6.0, 0.06), (-5.9, 0.04), (-5.8, 0.06), (-5.7, 0.12), (-5.6, 0.35), (-5.5, 0.65),
         (-5.42, 0.9), (-5.33, 1.3), (-5.26, 1.52), (-5.2, 1.45), (-5.12, 1.0), (-5.04, 0.5), (-4.95, 0.12),
         (-4.85, 0.05), (-4.7, 0.05), (-4.55, 0.04), (-4.4, 0.05), (-4.25, 0.05), (-4.1, 0.06), (-3.95, 0.08),
         (-3.85, 0.12), (-3.75, 0.18), (-3.65, 0.15), (-3.55, 0.25), (-3.45, 0.3), (-3.35, 0.22), (-3.25, 0.15),
         (-3.15, 0.12), (-3.05, 0.1), (-2.95, 0.18), (-2.85, 0.12), (-2.75, 0.2), (-2.65, 0.25), (-2.55, 0.2),
         (-2.45, 0.15), (-2.35, 0.18), (-2.25, 0.25), (-2.15, 0.3), (-2.05, 0.22), (-1.95, 0.28), (-1.88, 0.45),
         (-1.8, 0.3), (-1.7, 0.2), (-1.6, 0.22), (-1.5, 0.25), (-1.4, 0.2), (-1.3, 0.22), (-1.2, 0.18),
         (-1.1, 0.25), (-1.0, 0.35), (-0.9, 0.25), (-0.8, 0.2), (-0.7, 0.15), (-0.6, 0.12), (-0.5, 0.08),
         (-0.4, 0.06), (-0.3, 0.05), (-0.2, 0.1), (-0.1, 0.18), (0.0, 0.25), (0.1, 0.22), (0.2, 0.12),
         (0.3, 0.1), (0.4, 0.15), (0.5, 0.28), (0.6, 0.32), (0.7, 0.25), (0.8, 0.3), (0.9, 0.25), (1.0, 0.22),
         (1.1, 0.18), (1.2, 0.25), (1.3, 0.2), (1.4, 0.25), (1.5, 0.3), (1.6, 0.25), (1.7, 0.28), (1.8, 0.2),
         (1.9, 0.3), (2.0, 0.25), (2.1, 0.28), (2.2, 0.22), (2.3, 0.25), (2.4, 0.35), (2.5, 0.4), (2.6, 0.55),
         (2.7, 0.8), (2.78, 1.25), (2.85, 0.8), (2.92, 1.1), (3.0, 0.9), (3.08, 1.0), (3.15, 0.85), (3.24, 1.33),
         (3.3, 1.0), (3.37, 0.85), (3.43, 0.8), (3.5, 1.1), (3.58, 0.9), (3.65, 0.6), (3.72, 0.4), (3.8, 0.25),
         (3.9, 0.2), (4.0, 0.15), (4.1, 0.1), (4.2, 0.04), (4.29, 0.0)]

li3_b = [(-12.0, 0), (-11.11, 0), (-11.0, 0.08), (-10.9, 0.22), (-10.8, 0.25), (-10.7, 0.22), (-10.6, 0.28),
         (-10.5, 0.3), (-10.4, 0.2), (-10.3, 0.1), (-10.2, 0.08), (-10.1, 0.1), (-10.0, 0.12), (-9.9, 0.1),
         (-9.8, 0.12), (-9.7, 0.1), (-9.6, 0.08), (-9.46, 0.0), (-9.35, 0.02), (-9.25, 0.06), (-9.1, 0.08),
         (-8.95, 0.07), (-8.8, 0.05), (-8.65, 0.0), (-8.5, 0.03), (-8.4, 0.05), (-8.25, 0.08), (-8.1, 0.07),
         (-7.95, 0.06), (-7.8, 0.03), (-7.7, 0.02), (-7.55, 0.08), (-7.45, 0.15), (-7.35, 0.22), (-7.25, 0.25),
         (-7.15, 0.22), (-7.0, 0.25), (-6.9, 0.25), (-6.8, 0.28), (-6.7, 0.25), (-6.6, 0.3), (-6.52, 0.35),
         (-6.45, 0.2), (-6.35, 0.16), (-6.2, 0.12), (-6.05, 0.07), (-5.9, 0.03), (-5.75, 0.05), (-5.65, 0.2),
         (-5.55, 0.45), (-5.45, 0.75), (-5.36, 0.95), (-5.28, 1.15), (-5.22, 1.2), (-5.15, 1.1), (-5.08, 0.8),
         (-5.0, 0.4), (-4.92, 0.1), (-4.82, 0.04), (-4.7, 0.03), (-4.55, 0.05), (-4.45, 0.04), (-4.35, 0.05),
         (-4.2, 0.02), (-4.1, 0.05), (-3.95, 0.12), (-3.85, 0.2), (-3.75, 0.25), (-3.65, 0.35), (-3.58, 0.45),
         (-3.5, 0.57), (-3.42, 0.4), (-3.35, 0.3), (-3.25, 0.25), (-3.15, 0.15), (-3.05, 0.1), (-2.95, 0.08),
         (-2.85, 0.12), (-2.75, 0.18), (-2.65, 0.22), (-2.55, 0.25), (-2.45, 0.2), (-2.35, 0.25), (-2.25, 0.3),
         (-2.15, 0.35), (-2.05, 0.32), (-1.95, 0.3), (-1.85, 0.35), (-1.75, 0.28), (-1.65, 0.22), (-1.55, 0.25),
         (-1.45, 0.3), (-1.35, 0.25), (-1.25, 0.22), (-1.15, 0.28), (-1.05, 0.32), (-0.95, 0.2), (-0.85, 0.15),
         (-0.75, 0.1), (-0.65, 0.08), (-0.55, 0.06), (-0.45, 0.05), (-0.35, 0.04), (-0.25, 0.06), (-0.15, 0.1),
         (-0.05, 0.12), (0.05, 0.1), (0.15, 0.08), (0.25, 0.1), (0.35, 0.2), (0.45, 0.4), (0.55, 0.55),
         (0.62, 0.75), (0.7, 1.1), (0.78, 0.95), (0.85, 0.85), (0.92, 0.7), (1.0, 0.55), (1.08, 0.6),
         (1.15, 0.85), (1.22, 0.9), (1.3, 0.7), (1.38, 0.6), (1.45, 0.75), (1.52, 0.7), (1.6, 0.8), (1.7, 0.95),
         (1.78, 0.8), (1.85, 0.6), (1.95, 0.5), (2.05, 0.6), (2.12, 0.7), (2.2, 0.75), (2.3, 0.55), (2.4, 0.6),
         (2.5, 0.75), (2.6, 0.85), (2.7, 0.8), (2.8, 0.7), (2.9, 0.6), (3.0, 0.5), (3.1, 0.45), (3.2, 0.55),
         (3.3, 0.8), (3.4, 0.7), (3.5, 0.45), (3.6, 0.5), (3.7, 0.58), (3.8, 0.3), (3.9, 0.2), (4.0, 0.12),
         (4.1, 0.06), (4.2, 0.02), (4.29, 0.0)]

ge_tot = [(-12.0, 0), (-11.11, 0), (-11.02, 0.18), (-10.95, 0.67), (-10.86, 1.55), (-10.79, 1.5), (-10.73, 1.4),
          (-10.64, 1.6), (-10.57, 1.84), (-10.51, 2.12), (-10.46, 2.09), (-10.41, 1.65), (-10.35, 1.06),
          (-10.29, 0.96), (-10.2, 1.16), (-10.13, 0.76), (-10.06, 0.47), (-9.99, 1.06), (-9.9, 1.16), (-9.8, 1.11),
          (-9.71, 0.96), (-9.63, 1.25), (-9.55, 0.86), (-9.46, 0.18), (-9.37, 0.03), (-9.27, 0.47), (-9.17, 1.06),
          (-9.08, 1.16), (-8.99, 1.06), (-8.89, 1.11), (-8.76, 1.25), (-8.7, 0.67), (-8.61, 0.08), (-8.51, 0),
          (-8.41, 0.13), (-8.32, 0.96), (-8.23, 1.16), (-8.15, 1.06), (-8.06, 1.16), (-8.0, 0.96), (-7.9, 1.21),
          (-7.81, 0.67), (-7.72, 0.27), (-7.62, 0.47), (-7.52, 0.67), (-7.43, 0.86), (-7.34, 1.35), (-7.26, 1.79),
          (-7.21, 1.65), (-7.14, 1.45), (-7.05, 1.55), (-6.96, 1.65), (-6.86, 1.55), (-6.78, 1.79), (-6.73, 1.84),
          (-6.67, 1.45), (-6.6, 1.06), (-6.54, 1.94), (-6.48, 1.16), (-6.41, 0.67), (-6.32, 1.01), (-6.22, 1.06),
          (-6.12, 0.96), (-6.03, 0.76), (-5.94, 0.57), (-5.84, 0.27), (-5.74, 0.13), (-5.65, 0.23), (-5.56, 0.47),
          (-5.46, 0.72), (-5.36, 0.67), (-5.27, 0.76), (-5.18, 0.96), (-5.08, 1.16), (-5.0, 0.76), (-4.93, 0.27),
          (-4.83, 0.08), (-4.72, 0.23), (-4.63, 0.18), (-4.55, 0.08), (-4.44, 0.32), (-4.34, 0.27), (-4.25, 0.32),
          (-4.17, 0.37), (-4.06, 0.42), (-3.96, 0.47), (-3.87, 0.96), (-3.78, 1.65), (-3.68, 2.53), (-3.58, 3.22),
          (-3.49, 4.0), (-3.43, 3.8), (-3.34, 3.31), (-3.28, 4.0), (-3.21, 4.69), (-3.15, 4.39), (-3.07, 3.22),
          (-2.98, 1.45), (-2.92, 1.16), (-2.86, 1.65), (-2.77, 2.28), (-2.69, 1.75), (-2.6, 2.53), (-2.54, 2.82),
          (-2.48, 2.87), (-2.41, 3.12), (-2.34, 2.63), (-2.26, 3.02), (-2.18, 4.49), (-2.13, 5.47), (-2.08, 4.57),
          (-2.01, 3.9), (-1.96, 4.2), (-1.88, 2.82), (-1.78, 1.55), (-1.68, 1.84), (-1.59, 2.53), (-1.5, 3.07),
          (-1.42, 2.92), (-1.33, 2.53), (-1.27, 3.85), (-1.21, 2.82), (-1.14, 3.31), (-1.08, 2.63), (-0.99, 2.63),
          (-0.91, 2.04), (-0.86, 1.84), (-0.79, 1.21), (-0.7, 1.65), (-0.63, 0.72), (-0.53, 0.76), (-0.44, 0.67),
          (-0.36, 0.47), (-0.25, 0.96), (-0.15, 1.4), (-0.06, 1.75), (0.0, 1.84), (0.06, 1.65), (0.13, 1.16),
          (0.23, 0.86), (0.32, 0.67), (0.38, 0.47), (0.48, 1.06), (0.57, 1.5), (0.63, 1.65), (0.71, 1.89),
          (0.79, 2.04), (0.86, 2.24), (0.91, 2.38), (0.99, 2.33), (1.08, 2.19), (1.17, 2.24), (1.27, 1.99),
          (1.36, 2.04), (1.46, 2.09), (1.55, 2.28), (1.63, 2.14), (1.71, 1.99), (1.8, 2.09), (1.9, 2.04),
          (2.01, 1.84), (2.1, 1.3), (2.16, 1.84), (2.26, 1.94), (2.35, 1.99), (2.44, 1.84), (2.51, 2.09),
          (2.58, 2.24), (2.67, 1.84), (2.73, 1.75), (2.79, 1.45), (2.86, 1.01), (2.92, 1.06), (2.98, 0.76),
          (3.07, 0.96), (3.15, 1.35), (3.21, 1.25), (3.28, 0.81), (3.37, 0.62), (3.45, 0.86), (3.53, 1.16),
          (3.62, 0.86), (3.71, 0.67), (3.81, 0.67), (3.87, 0.42), (3.96, 0.27), (4.04, 0.32), (4.09, 0.08),
          (4.19, 0.0)]

ge_4p = [(-12.0, 0), (-11.11, 0), (-11.0, 0.1), (-10.9, 0.22), (-10.8, 0.2), (-10.7, 0.2), (-10.6, 0.22),
         (-10.5, 0.3), (-10.4, 0.2), (-10.3, 0.22), (-10.2, 0.12), (-10.1, 0.15), (-10.0, 0.18), (-9.9, 0.2),
         (-9.8, 0.2), (-9.7, 0.18), (-9.6, 0.22), (-9.5, 0.1), (-9.4, 0.03), (-9.3, 0.12), (-9.2, 0.22),
         (-9.1, 0.25), (-9.0, 0.22), (-8.9, 0.25), (-8.8, 0.2), (-8.7, 0.08), (-8.6, 0.0), (-8.5, 0.02),
         (-8.4, 0.1), (-8.3, 0.22), (-8.2, 0.25), (-8.1, 0.25), (-8.0, 0.2), (-7.9, 0.25), (-7.8, 0.15),
         (-7.7, 0.1), (-7.6, 0.15), (-7.5, 0.2), (-7.4, 0.3), (-7.3, 0.35), (-7.2, 0.32), (-7.1, 0.35),
         (-7.0, 0.38), (-6.9, 0.35), (-6.8, 0.4), (-6.7, 0.35), (-6.6, 0.3), (-6.54, 0.42), (-6.45, 0.25),
         (-6.35, 0.3), (-6.25, 0.28), (-6.1, 0.25), (-6.0, 0.2), (-5.9, 0.12), (-5.8, 0.08), (-5.7, 0.1),
         (-5.6, 0.3), (-5.5, 0.45), (-5.4, 0.55), (-5.3, 0.5), (-5.2, 0.45), (-5.1, 0.55), (-5.03, 0.45),
         (-4.95, 0.2), (-4.85, 0.05), (-4.75, 0.1), (-4.65, 0.12), (-4.55, 0.08), (-4.45, 0.2), (-4.35, 0.2),
         (-4.25, 0.25), (-4.15, 0.3), (-4.06, 0.38), (-3.96, 0.42), (-3.87, 0.9), (-3.78, 1.6), (-3.68, 2.45),
         (-3.58, 3.1), (-3.49, 3.9), (-3.43, 3.7), (-3.34, 3.2), (-3.28, 3.9), (-3.21, 4.55), (-3.15, 4.25),
         (-3.07, 3.1), (-2.98, 1.38), (-2.92, 1.1), (-2.86, 1.58), (-2.77, 2.2), (-2.69, 1.68), (-2.6, 2.45),
         (-2.54, 2.72), (-2.48, 2.75), (-2.41, 3.0), (-2.34, 2.52), (-2.26, 2.9), (-2.18, 4.35), (-2.13, 5.3),
         (-2.08, 4.45), (-2.01, 3.75), (-1.96, 4.05), (-1.88, 2.72), (-1.78, 1.48), (-1.68, 1.75), (-1.59, 2.42),
         (-1.5, 2.95), (-1.42, 2.8), (-1.33, 2.42), (-1.27, 3.7), (-1.21, 2.7), (-1.14, 3.18), (-1.08, 2.52),
         (-0.99, 2.52), (-0.91, 1.95), (-0.86, 1.75), (-0.79, 1.15), (-0.7, 1.58), (-0.63, 0.68), (-0.53, 0.72),
         (-0.44, 0.62), (-0.36, 0.44), (-0.25, 0.9), (-0.15, 1.3), (-0.06, 1.62), (0.0, 1.7), (0.06, 1.52),
         (0.13, 1.05), (0.23, 0.78), (0.32, 0.6), (0.38, 0.42), (0.48, 0.9), (0.57, 1.25), (0.63, 1.3),
         (0.71, 1.5), (0.79, 1.6), (0.86, 1.7), (0.91, 1.78), (0.99, 1.72), (1.08, 1.6), (1.17, 1.55),
         (1.27, 1.4), (1.36, 1.45), (1.46, 1.4), (1.55, 1.52), (1.63, 1.45), (1.71, 1.4), (1.8, 1.5),
         (1.9, 1.45), (2.01, 1.35), (2.1, 0.95), (2.16, 1.4), (2.26, 1.4), (2.35, 1.45), (2.44, 1.38),
         (2.51, 1.5), (2.58, 1.55), (2.67, 1.35), (2.73, 1.15), (2.79, 0.9), (2.86, 0.6), (2.92, 0.55),
         (2.98, 0.45), (3.07, 0.5), (3.15, 0.5), (3.21, 0.6), (3.28, 0.75), (3.37, 0.62), (3.45, 0.55),
         (3.53, 0.5), (3.62, 0.45), (3.71, 0.45), (3.81, 0.35), (3.87, 0.25), (3.96, 0.15), (4.04, 0.12),
         (4.09, 0.04), (4.19, 0.0)]

ge_4s = [(-12.0, 0), (-11.11, 0), (-11.0, 0.2), (-10.9, 0.6), (-10.8, 1.1), (-10.7, 1.2), (-10.6, 1.25),
         (-10.5, 1.55), (-10.45, 1.65), (-10.38, 1.3), (-10.3, 0.8), (-10.2, 0.9), (-10.12, 0.7), (-10.05, 0.3),
         (-9.98, 0.9), (-9.9, 0.95), (-9.8, 0.9), (-9.7, 0.8), (-9.62, 1.0), (-9.55, 0.7), (-9.46, 0.12),
         (-9.37, 0.0), (-9.27, 0.35), (-9.17, 0.85), (-9.08, 0.95), (-8.99, 0.85), (-8.89, 0.85), (-8.78, 1.0),
         (-8.7, 0.55), (-8.61, 0.05), (-8.51, 0.0), (-8.41, 0.1), (-8.32, 0.75), (-8.23, 0.9), (-8.15, 0.8),
         (-8.06, 0.9), (-8.0, 0.75), (-7.9, 0.95), (-7.81, 0.5), (-7.72, 0.15), (-7.62, 0.3), (-7.52, 0.45),
         (-7.43, 0.6), (-7.34, 1.0), (-7.26, 1.3), (-7.18, 1.15), (-7.1, 1.1), (-7.0, 1.15), (-6.9, 1.2),
         (-6.8, 1.35), (-6.73, 1.4), (-6.67, 1.1), (-6.6, 0.75), (-6.54, 1.5), (-6.48, 0.9), (-6.41, 0.4),
         (-6.32, 0.7), (-6.22, 0.8), (-6.12, 0.7), (-6.03, 0.55), (-5.94, 0.4), (-5.84, 0.18), (-5.74, 0.05),
         (-5.65, 0.12), (-5.56, 0.15), (-5.46, 0.2), (-5.36, 0.15), (-5.27, 0.25), (-5.18, 0.45), (-5.08, 0.6),
         (-5.0, 0.3), (-4.93, 0.05), (-4.83, 0.02), (-4.72, 0.1), (-4.6, 0.1), (-4.45, 0.12), (-4.3, 0.1),
         (-4.15, 0.05), (-4.0, 0.03), (-3.8, 0.05), (-3.6, 0.1), (-3.4, 0.05), (-3.2, 0.08), (-3.0, 0.05),
         (-2.8, 0.1), (-2.6, 0.15), (-2.4, 0.2), (-2.2, 0.3), (-2.13, 0.4), (-2.05, 0.3), (-1.9, 0.1),
         (-1.7, 0.05), (-1.5, 0.1), (-1.3, 0.18), (-1.1, 0.2), (-0.9, 0.12), (-0.7, 0.08), (-0.5, 0.05),
         (-0.3, 0.05), (-0.1, 0.05), (0.0, 0.1), (0.2, 0.08), (0.4, 0.15), (0.6, 0.3), (0.8, 0.5), (1.0, 0.65),
         (1.15, 0.85), (1.3, 0.7), (1.5, 0.65), (1.7, 0.6), (1.9, 0.5), (2.1, 0.5), (2.3, 0.55), (2.5, 0.6),
         (2.7, 0.55), (2.9, 0.45), (3.1, 0.6), (3.2, 0.7), (3.3, 0.6), (3.45, 0.5), (3.6, 0.55), (3.75, 0.3),
         (3.9, 0.2), (4.0, 0.1), (4.1, 0.03), (4.2, 0.0)]

YEL = '#FFEE00'
CYA = '#22E0EE'
FS = 10.5


def xy(pairs):
    return [p[0] for p in pairs], [p[1] for p in pairs]


def setup(ax, xlim, ylim, ymaj, ymin, fmt, xlabels, dash):
    ax.set_xlim(*xlim)
    ax.set_ylim(*ylim)
    ax.xaxis.set_major_locator(MultipleLocator(2))
    ax.xaxis.set_minor_locator(MultipleLocator(1))
    ax.yaxis.set_major_locator(MultipleLocator(ymaj))
    ax.yaxis.set_minor_locator(MultipleLocator(ymin))
    ax.yaxis.set_major_formatter(FormatStrFormatter(fmt))
    ax.tick_params(which='both', direction='out', width=0.6, labelsize=FS, pad=2, colors='#222222')
    ax.tick_params(which='major', length=3)
    ax.tick_params(which='minor', length=1.8)
    if not xlabels:
        ax.tick_params(labelbottom=False)
    top = ax.secondary_xaxis('top')
    top.xaxis.set_major_locator(MultipleLocator(2))
    top.xaxis.set_minor_locator(MultipleLocator(1))
    top.tick_params(which='both', direction='in', labeltop=False, width=0.6)
    top.tick_params(which='major', length=3)
    top.tick_params(which='minor', length=1.8)
    right = ax.secondary_yaxis('right')
    right.yaxis.set_major_locator(MultipleLocator(ymaj))
    right.yaxis.set_minor_locator(MultipleLocator(ymin))
    right.tick_params(which='both', direction='in', labelright=False, width=0.6)
    right.tick_params(which='major', length=3)
    right.tick_params(which='minor', length=1.8)
    lw, dsh = dash
    ax.axvline(0, color='k', lw=lw, dashes=dsh, zorder=5)


def leg(ax, x, y):
    ax.legend(loc='upper left', bbox_to_anchor=(x, y), frameon=False, fontsize=FS,
              handlelength=2.3, handletextpad=0.3, labelspacing=0.12, borderpad=0, borderaxespad=0)


fig = plt.figure(figsize=(1039 / 120, 835 / 120), dpi=120)

colL = (0.0558, 0.4331)
colR = (0.5791, 0.4200)
rowsL = [(0.7186, 0.2626), (0.5293, 0.1892), (0.2904, 0.2389), (0.0571, 0.2333)]
rowsR = [(0.7162, 0.2467), (0.5249, 0.1913), (0.2847, 0.2402), (0.0539, 0.2308)]

sets = [
    dict(col=colL, rows=rowsL, xlim=(-11.03, 3.0), dash=(1.4, (5.6, 2.2)),
         ylims=[(-0.48, 9), (-0.09, 2.66), (-0.093, 1.51), (-0.12, 6.3)],
         yt=[(1, 0.5, '%d'), (0.5, 0.25, '%.1f'), (0.2, 0.1, '%.1f'), (1, 0.5, '%d')],
         tot=tot_a, h=h_a, li=(li1_a, li2_a, li3_a), m=(si_tot, si_3p, si_3s), shatch='/' * 5,
         mlab=('Si  total', 'Si  3p', 'Si  3s'), tag='a', tagbox=(0.9, 0.789, 0.08, 0.169), tagfs=20,
         totpos=(0.036, 0.889), lab1=(-0.093, 0.424), lab3=(-0.09, 0.41),
         legs=[(0.031, 0.937), (0.118, 0.94), (0.016, 0.915)]),
    dict(col=colR, rows=rowsR, xlim=(-12.0, 4.62), dash=(1.0, (4.7, 2.4)),
         ylims=[(-0.15, 9), (-0.1, 3.78), (-0.1, 2.61), (-0.12, 5.55)],
         yt=[(1, 0.5, '%d'), (1, 0.5, '%d'), (0.5, 0.25, '%.1f'), (1, 0.5, '%d')],
         tot=tot_b, h=h_b, li=(li1_b, li2_b, li3_b), m=(ge_tot, ge_4p, ge_4s), shatch='\\' * 5,
         mlab=('Ge total', 'Ge  4p', 'Ge  4s'), tag='b', tagbox=(0.931, 0.82, 0.051, 0.112), tagfs=13,
         totpos=(0.023, 0.917), lab1=(-0.084, 0.485), lab3=(-0.0876, 0.41),
         legs=[(0.019, 0.944), (0.021, 0.939), (0.04, 0.939)]),
]

for s in sets:
    axs = [fig.add_axes([s['col'][0], b, s['col'][1], h]) for b, h in s['rows']]
    for i, ax in enumerate(axs):
        ym, yn, f = s['yt'][i]
        setup(ax, s['xlim'], s['ylims'][i], ym, yn, f, i == 3, s['dash'])

    # total DOS
    ax = axs[0]
    ax.plot(*xy(s['tot']), color='k', lw=0.6)
    ax.text(s['totpos'][0], s['totpos'][1], 'Total DOS', transform=ax.transAxes,
            fontsize=10.7, va='center', ha='left')
    bx, by, bw, bh = s['tagbox']
    ax.add_patch(Rectangle((bx, by), bw, bh, transform=ax.transAxes, fc='white', ec='k', lw=0.7, zorder=6))
    ax.text(bx + bw / 2, by + bh / 2, s['tag'], transform=ax.transAxes, ha='center', va='center',
            fontsize=s['tagfs'], zorder=7)
    ax.set_ylabel('DOS (states  eV cell)', fontsize=9.2)
    ax.yaxis.set_label_coords(*s['lab1'])

    # H
    ax = axs[1]
    ax.plot(*xy(s['h']), color='#1010FF', lw=0.7, label='H')
    leg(ax, *s['legs'][0])

    # Li
    ax = axs[2]
    l1, l2, l3 = s['li']
    x3, y3 = xy(l3)
    ax.fill_between(x3, 0, y3, facecolor='none', edgecolor=YEL, hatch='\\' * 4, linewidth=0, zorder=1)
    ax.plot(*xy(l1), color='#800000', lw=1.8, label='Li1', zorder=3)
    ax.plot(*xy(l2), color='#FF00FF', lw=0.75, label='Li2', zorder=3)
    ax.plot(x3, y3, color='#808000', lw=1.6, ls=':', label='Li3', zorder=4)
    ax.set_ylabel('DOS (States  eV atom)', fontsize=9.2)
    ax.yaxis.set_label_coords(*s['lab3'])
    leg(ax, *s['legs'][1])

    # Si / Ge
    ax = axs[3]
    mt, mp, ms = s['m']
    xs, ys = xy(ms)
    ax.fill_between(xs, 0, ys, facecolor='none', edgecolor=CYA, hatch=s['shatch'], linewidth=0, zorder=1)
    ax.plot(*xy(mt), color='#000080', lw=0.9, label=s['mlab'][0], zorder=3)
    ax.plot(*xy(mp), color='#FF8000', lw=1.2, label=s['mlab'][1], zorder=3)
    ax.plot(xs, ys, color=CYA, lw=1.6, ls=':', label=s['mlab'][2], zorder=4)
    ax.set_xlabel('E (eV)', fontsize=9.8, labelpad=2)
    leg(ax, *s['legs'][2])

fig.savefig('out.png', dpi=120)
